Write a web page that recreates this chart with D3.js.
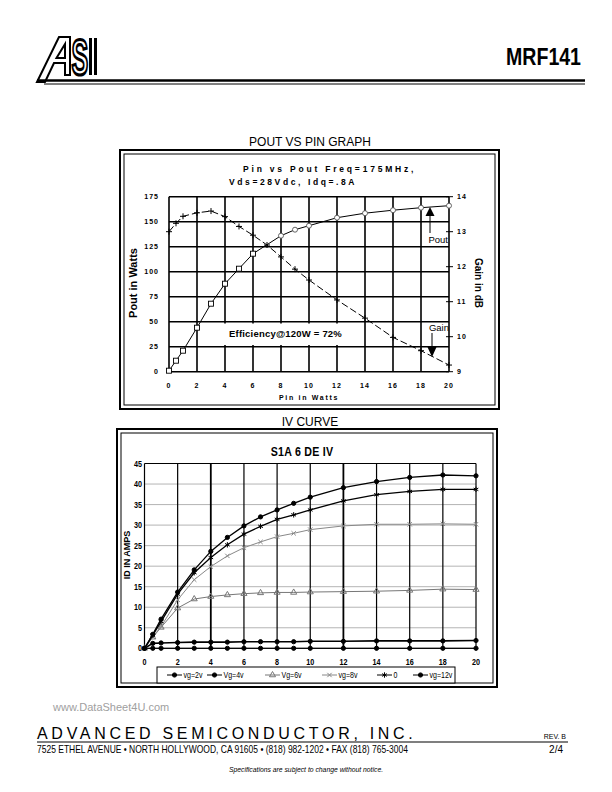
<!DOCTYPE html>
<html lang="en">
<head>
<meta charset="utf-8">
<title>MRF141</title>
<script src="https://cdn.jsdelivr.net/npm/d3@7"></script>
<style>
  body { margin: 0; background: #fff; }
  svg { display: block; }
</style>
</head>
<body>
<div id="page"></div>
<script>
// ---- data ----
const pinW   = [0, 0.5, 1, 2, 3, 4, 5, 6, 7, 8, 9, 10, 12, 14, 16, 18, 20];
const poutW  = [1, 11, 21, 44, 68, 88, 103, 118, 127, 136, 142, 146, 154, 158.5, 161.5, 164, 166];
const gainDb = [13.0, 13.24, 13.44, 13.54, 13.59, 13.43, 13.15, 12.9, 12.62, 12.28, 11.93, 11.62, 11.05, 10.53, 9.98, 9.6, 9.19];
const pinTicks  = [0, 2, 4, 6, 8, 10, 12, 14, 16, 18, 20];
const poutTicks = [0, 25, 50, 75, 100, 125, 150, 175];
const gainTicks = [9, 10, 11, 12, 13, 14];

const vds   = [0, 0.5, 1, 2, 3, 4, 5, 6, 7, 8, 9, 10, 12, 14, 16, 18, 20];
const id2v  = [0, 0, 0, 0, 0, 0, 0, 0, 0, 0, 0, 0, 0, 0, 0, 0, 0];
const id4v  = [0, 1.2, 1.3, 1.4, 1.5, 1.5, 1.5, 1.6, 1.6, 1.6, 1.6, 1.7, 1.7, 1.8, 1.8, 1.8, 1.9];
const id6v  = [0, 2.7, 5.1, 9.8, 12.0, 12.6, 13.0, 13.3, 13.5, 13.6, 13.6, 13.7, 13.8, 13.9, 14.1, 14.4, 14.3];
const id8v  = [0, 2.8, 5.3, 11.8, 16.7, 19.9, 22.5, 24.5, 25.9, 27.2, 28.0, 28.9, 29.8, 30.2, 30.2, 30.3, 30.2];
const id10v = [0, 3.2, 6.5, 13.2, 18.4, 22.1, 25.2, 27.8, 29.7, 31.4, 32.5, 33.7, 35.9, 37.4, 38.2, 38.7, 38.7];
const id12v = [0, 3.4, 7.1, 13.7, 19.1, 23.6, 27.0, 29.8, 32.0, 33.7, 35.3, 36.8, 39.1, 40.6, 41.6, 42.2, 42.0];
const ivNames = ["vg=2v", "Vg=4v", "Vg=6v", "vg=8v", "0", "vg=12v"];
const vdsTicks = [0, 2, 4, 6, 8, 10, 12, 14, 16, 18, 20];
const idTicks  = [0, 5, 10, 15, 20, 25, 30, 35, 40, 45];

const sans = "'Liberation Sans', Arial, Helvetica, sans-serif";

const svg = d3.select("#page").append("svg")
    .attr("width", 612).attr("height", 792);

// condensed text: normal font squeezed horizontally
function narrowText(parent, x, y, txt, size, opts) {
  opts = opts || {};
  return parent.append("text")
      .attr("transform", `translate(${x},${y}) scale(${opts.sx || 0.82},1)`)
      .attr("text-anchor", opts.anchor || "start")
      .attr("font-family", sans)
      .attr("font-weight", opts.bold ? "bold" : "normal")
      .attr("font-size", size)
      .attr("letter-spacing", opts.ls || 0)
      .attr("fill", opts.fill || "#000")
      .text(txt);
}

// ---- header ----
let hdr = svg.append("g");
hdr.append("path") // A
    .attr("d", "M37,82 L59,37 L70,37 L70,75 L65,75 L65,63 L54,63 L45,82 Z M56.5,58 L65,58 L65,44 Z")
    .attr("fill", "none").attr("stroke", "#000").attr("stroke-width", 2);
narrowText(hdr, 71.5, 75, "S", 50, {bold: true, sx: 0.5})
    .attr("fill", "none").attr("stroke", "#000").attr("stroke-width", 3.2);
hdr.append("rect").attr("x", 89).attr("y", 38).attr("width", 3).attr("height", 37).attr("fill", "#000");
hdr.append("rect").attr("x", 94).attr("y", 38).attr("width", 3).attr("height", 37).attr("fill", "#000");
hdr.append("line").attr("x1", 37).attr("x2", 585).attr("y1", 80.5).attr("y2", 80.5)
    .attr("stroke", "#000").attr("stroke-width", 2.5);
hdr.append("line").attr("x1", 44).attr("x2", 585).attr("y1", 84).attr("y2", 84)
    .attr("stroke", "#000").attr("stroke-width", 1);
narrowText(hdr, 581, 65, "MRF141", 23, {bold: true, sx: 0.85, anchor: "end"});

// helper for double framed boxes
function frame(x, y, w, h) {
  svg.append("rect").attr("x", x).attr("y", y).attr("width", w).attr("height", h)
      .attr("fill", "#fff").attr("stroke", "#000").attr("stroke-width", 2);
  svg.append("rect").attr("x", x + 4).attr("y", y + 4).attr("width", w - 8).attr("height", h - 8)
      .attr("fill", "none").attr("stroke", "#000").attr("stroke-width", 1);
}

// ================= POUT VS PIN =================
svg.append("text").attr("x", 310).attr("y", 146).attr("text-anchor", "middle")
    .attr("font-family", sans).attr("font-size", 12).text("POUT VS PIN GRAPH");
frame(120, 150, 379, 259);

const x1 = d3.scaleLinear().domain([0, 20]).range([169, 449]);
const yP = d3.scaleLinear().domain([0, 175]).range([371.7, 196.7]);
const yG = d3.scaleLinear().domain([9, 14]).range([371.7, 196.7]);

let g1 = svg.append("g");
g1.append("text").attr("x", 243).attr("y", 172)
    .attr("font-family", sans).attr("font-weight", "bold").attr("font-size", 8.5)
    .attr("letter-spacing", 2.8).text("Pin vs Pout Freq=175MHz,");
g1.append("text").attr("x", 229).attr("y", 185)
    .attr("font-family", sans).attr("font-weight", "bold").attr("font-size", 8.5)
    .attr("letter-spacing", 2.6).text("Vds=28Vdc, Idq=.8A");

// grid
g1.selectAll(".vg").data(pinTicks).enter().append("line")
    .attr("x1", d => x1(d)).attr("x2", d => x1(d))
    .attr("y1", yP(175)).attr("y2", yP(0))
    .attr("stroke", "#000").attr("stroke-width", 1.6);
g1.selectAll(".hg").data(poutTicks).enter().append("line")
    .attr("x1", x1(0)).attr("x2", x1(20))
    .attr("y1", d => yP(d)).attr("y2", d => yP(d))
    .attr("stroke", "#000").attr("stroke-width", 1.6);

// left axis labels
g1.selectAll(".yl").data(poutTicks).enter().append("text")
    .attr("x", 159).attr("y", d => yP(d) + 2.5).attr("text-anchor", "end")
    .attr("font-family", sans).attr("font-weight", "bold").attr("font-size", 7)
    .attr("letter-spacing", 1).text(d => d);
// right axis ticks and labels
g1.selectAll(".rt").data(gainTicks).enter().append("line")
    .attr("x1", x1(20) - 3).attr("x2", x1(20) + 4)
    .attr("y1", d => yG(d)).attr("y2", d => yG(d))
    .attr("stroke", "#000").attr("stroke-width", 1);
g1.selectAll(".yr").data(gainTicks).enter().append("text")
    .attr("x", 457).attr("y", d => yG(d) + 2.5)
    .attr("font-family", sans).attr("font-weight", "bold").attr("font-size", 7)
    .attr("letter-spacing", 1).text(d => d);
// x labels
g1.selectAll(".xl").data(pinTicks).enter().append("text")
    .attr("x", d => x1(d)).attr("y", 388).attr("text-anchor", "middle")
    .attr("font-family", sans).attr("font-weight", "bold").attr("font-size", 7)
    .attr("letter-spacing", 1).text(d => d);
g1.append("text").attr("x", 309).attr("y", 399.5).attr("text-anchor", "middle")
    .attr("font-family", sans).attr("font-weight", "bold").attr("font-size", 7)
    .attr("letter-spacing", 1.7).text("Pin in Watts");
g1.append("text").attr("transform", "translate(137,283) rotate(-90)").attr("text-anchor", "middle")
    .attr("font-family", sans).attr("font-weight", "bold").attr("font-size", 11)
    .text("Pout in Watts");
g1.append("text").attr("transform", "translate(475,283) rotate(90)").attr("text-anchor", "middle")
    .attr("font-family", sans).attr("font-weight", "bold").attr("font-size", 10)
    .text("Gain in dB");

// efficiency note
g1.append("rect").attr("x", 204).attr("y", 323.5).attr("width", 147).attr("height", 21.5).attr("fill", "#fff");
g1.append("text").attr("x", 229).attr("y", 337)
    .attr("font-family", sans).attr("font-weight", "bold").attr("font-size", 9.5)
    .attr("letter-spacing", 0.2).text("Efficiency@120W = 72%");

// gain line (dashed, plus markers)
const gainPts = pinW.map((p, i) => [p, gainDb[i]]);
g1.append("path").datum(gainPts)
    .attr("d", d3.line().x(d => x1(d[0])).y(d => yG(d[1])))
    .attr("fill", "none").attr("stroke", "#000").attr("stroke-width", 1)
    .attr("stroke-dasharray", "7,3");
g1.selectAll(".gm").data(gainPts).enter().append("path")
    .attr("transform", d => `translate(${x1(d[0])},${yG(d[1])})`)
    .attr("d", "M-3,0H3M0,-3V3").attr("stroke", "#000").attr("stroke-width", 1);

// pout line (solid, open markers)
const poutPts = pinW.map((p, i) => [p, poutW[i]]);
g1.append("path").datum(poutPts)
    .attr("d", d3.line().x(d => x1(d[0])).y(d => yP(d[1])))
    .attr("fill", "none").attr("stroke", "#000").attr("stroke-width", 1);
g1.selectAll(".pm").data(poutPts.filter(d => d[0] <= 6)).enter().append("rect")
    .attr("x", d => x1(d[0]) - 2.5).attr("y", d => yP(d[1]) - 2.5)
    .attr("width", 5).attr("height", 5)
    .attr("fill", "#fff").attr("stroke", "#000").attr("stroke-width", 0.9);
g1.selectAll(".pc").data(poutPts.filter(d => d[0] >= 8)).enter().append("circle")
    .attr("cx", d => x1(d[0])).attr("cy", d => yP(d[1])).attr("r", 2.5)
    .attr("fill", "#fff").attr("stroke", "#555").attr("stroke-width", 0.9);

// arrows + labels
g1.append("line").attr("x1", 430).attr("x2", 430).attr("y1", 214).attr("y2", 233)
    .attr("stroke", "#000").attr("stroke-width", 1);
g1.append("path").attr("d", "M430,207 L434.5,216 L425.5,216 Z").attr("fill", "#000");
g1.append("text").attr("x", 448).attr("y", 243).attr("text-anchor", "end")
    .attr("font-family", sans).attr("font-size", 9.5).text("Pout");
g1.append("line").attr("x1", 432).attr("x2", 432).attr("y1", 333).attr("y2", 348)
    .attr("stroke", "#000").attr("stroke-width", 1);
g1.append("path").attr("d", "M432,357 L437,346 L427,346 Z").attr("fill", "#000");
g1.append("text").attr("x", 449).attr("y", 331).attr("text-anchor", "end")
    .attr("font-family", sans).attr("font-size", 9.5).text("Gain");

// ================= IV CURVE =================
svg.append("text").attr("x", 310).attr("y", 426).attr("text-anchor", "middle")
    .attr("font-family", sans).attr("font-size", 12).text("IV CURVE");
frame(117, 429, 380, 258);

const x2 = d3.scaleLinear().domain([0, 20]).range([144.5, 476]);
const y2 = d3.scaleLinear().domain([0, 45]).range([648.3, 463.5]);
let g2 = svg.append("g");

narrowText(g2, 302, 455.5, "S1A 6 DE  IV", 13, {bold: true, anchor: "middle", sx: 0.82, ls: 0.3});

// dotted horizontals
g2.selectAll(".hd").data(idTicks.filter(d => d > 0 && d < 45)).enter().append("line")
    .attr("x1", x2(0)).attr("x2", x2(20))
    .attr("y1", d => y2(d)).attr("y2", d => y2(d))
    .attr("stroke", "#444").attr("stroke-width", 0.8).attr("stroke-dasharray", "1,1");
g2.append("line").attr("x1", x2(0)).attr("x2", x2(20)).attr("y1", y2(45)).attr("y2", y2(45))
    .attr("stroke", "#000").attr("stroke-width", 1);
g2.append("line").attr("x1", x2(0)).attr("x2", x2(20)).attr("y1", y2(0)).attr("y2", y2(0))
    .attr("stroke", "#000").attr("stroke-width", 1);
g2.selectAll(".vv").data(vdsTicks).enter().append("line")
    .attr("x1", d => x2(d)).attr("x2", d => x2(d))
    .attr("y1", y2(45)).attr("y2", y2(0))
    .attr("stroke", "#000").attr("stroke-width", d => (d === 4 || d === 12) ? 1.8 : 1.2);

idTicks.forEach(d => narrowText(g2, 142, y2(d) + 3, d, 9, {bold: true, anchor: "end", sx: 0.8}));
vdsTicks.forEach(d => narrowText(g2, x2(d), 665, d, 9, {bold: true, anchor: "middle", sx: 0.8}));
g2.append("text").attr("transform", "translate(130,555) rotate(-90)").attr("text-anchor", "middle")
    .attr("font-family", sans).attr("font-weight", "bold").attr("font-size", 9)
    .text("ID IN AMPS");

// series
const ivSeries = [id2v, id4v, id6v, id8v, id10v, id12v].map((vals, i) => ({
  name: ivNames[i],
  pts: vds.map((v, j) => [v, vals[j]])
}));
const ivColor  = ["#000", "#000", "#777", "#888", "#000", "#000"];
const ivWidth  = [1, 1.6, 1, 1, 1.3, 1.3];
const ivSymbol = [d3.symbolCircle, d3.symbolCircle, d3.symbolTriangle, d3.symbolTimes, d3.symbolAsterisk, d3.symbolCircle];
const ivSize   = [14, 14, 16, 14, 20, 14];
const ivOpen   = [false, false, true, true, true, false];

const line2 = d3.line().x(d => x2(d[0])).y(d => y2(d[1]));
ivSeries.forEach((s, i) => {
  g2.append("path").datum(s.pts).attr("d", line2)
      .attr("fill", "none").attr("stroke", ivColor[i]).attr("stroke-width", ivWidth[i]);
  g2.selectAll(".m" + i).data(s.pts).enter().append("path")
      .attr("transform", d => `translate(${x2(d[0])},${y2(d[1])})`)
      .attr("d", d3.symbol().type(ivSymbol[i]).size(ivSize[i]))
      .attr("fill", ivOpen[i] ? "none" : ivColor[i])
      .attr("stroke", ivColor[i]).attr("stroke-width", 1);
});

// legend
g2.append("rect").attr("x", 157).attr("y", 667).attr("width", 298).attr("height", 16)
    .attr("fill", "#fff").attr("stroke", "#000").attr("stroke-width", 1);
const legX = [167, 207, 265, 322, 377, 413];
ivSeries.forEach((s, i) => {
  const lg = g2.append("g").attr("transform", `translate(${legX[i]},675)`);
  lg.append("line").attr("x1", 0).attr("x2", 15).attr("stroke", ivColor[i]).attr("stroke-width", 1);
  lg.append("path").attr("transform", "translate(7.5,0)")
      .attr("d", d3.symbol().type(ivSymbol[i]).size(ivSize[i]))
      .attr("fill", ivOpen[i] ? "none" : ivColor[i])
      .attr("stroke", ivColor[i]).attr("stroke-width", 1);
  narrowText(lg, 16.5, 3, s.name, 8.8, {sx: 0.8});
});

// ---- footer ----
svg.append("text").attr("x", 53).attr("y", 711)
    .attr("font-family", sans).attr("font-size", 11).attr("fill", "#a0a0a0")
    .text("www.DataSheet4U.com");
svg.append("text").attr("x", 37).attr("y", 739)
    .attr("font-family", sans).attr("font-size", 16).attr("letter-spacing", 3.7)
    .text("ADVANCED SEMICONDUCTOR, INC.");
svg.append("text").attr("x", 566).attr("y", 739).attr("text-anchor", "end")
    .attr("font-family", sans).attr("font-size", 7).text("REV. B");
svg.append("line").attr("x1", 37).attr("x2", 568).attr("y1", 742).attr("y2", 742)
    .attr("stroke", "#000").attr("stroke-width", 1.2);
narrowText(svg, 37, 753,
    "7525 ETHEL AVENUE \u2022 NORTH HOLLYWOOD, CA 91605 \u2022 (818) 982-1202 \u2022 FAX (818) 765-3004",
    10, {sx: 0.85});
svg.append("text").attr("x", 563).attr("y", 753).attr("text-anchor", "end")
    .attr("font-family", sans).attr("font-size", 10).text("2/4");
svg.append("text").attr("x", 306).attr("y", 772).attr("text-anchor", "middle")
    .attr("font-family", sans).attr("font-style", "italic").attr("font-size", 6.8)
    .text("Specifications are subject to change without notice.");
</script>
</body>
</html>
